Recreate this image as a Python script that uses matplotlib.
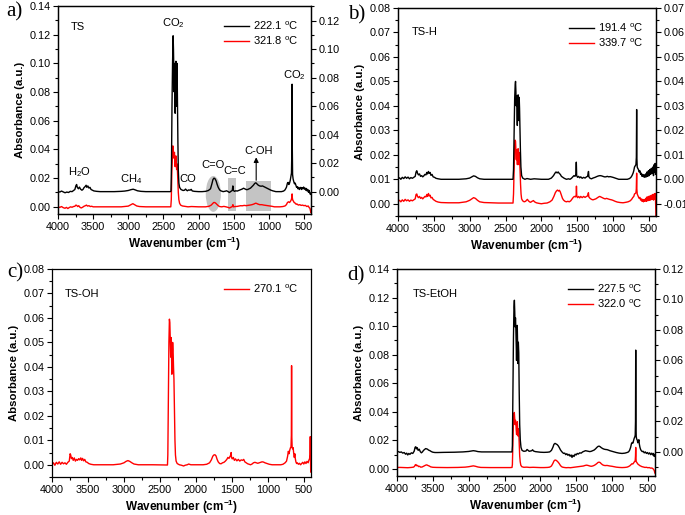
import matplotlib
matplotlib.use('Agg')
import matplotlib.pyplot as plt
from matplotlib.ticker import MultipleLocator, FormatStrFormatter
from matplotlib.patches import Ellipse, Rectangle

plt.rcParams['font.family'] = ['Liberation Sans', 'DejaVu Sans']
plt.rcParams['mathtext.fontset'] = 'custom'
plt.rcParams['mathtext.rm'] = 'Liberation Sans'
plt.rcParams['mathtext.it'] = 'Liberation Sans:italic'
plt.rcParams['mathtext.bf'] = 'Liberation Sans:bold'

# ---------------- data: (wavenumber cm-1, absorbance) ----------------
# Panel a (TS): black on right axis, red on left axis
A_BLACK = [(4000,0.0002),(3975,-0.0003),(3950,0.0004),(3925,-0.0002),(3900,-0.0008),(3875,-0.0003),(3850,-0.0006),(3825,0.0002),(3800,0.0000),(3780,0.0008),(3760,0.0015),(3745,0.0042),(3735,0.0050),(3725,0.0030),(3710,0.0020),(3695,0.0032),(3680,0.0018),(3660,0.0010),(3645,0.0015),(3630,0.0028),(3615,0.0035),(3600,0.0045),(3590,0.0030),(3575,0.0040),(3560,0.0025),(3545,0.0030),(3530,0.0015),(3510,0.0010),(3490,0.0005),(3450,0.0002),(3400,0.0),(3300,0.0),(3200,0.0),(3100,0.0002),(3050,0.0004),(3000,0.0008),(2960,0.0014),(2930,0.0017),(2900,0.0012),(2870,0.0006),(2820,0.0002),(2750,0.0),(2600,0.0),(2500,0.0),(2400,0.0),(2392,0.0005),(2385,0.02),(2378,0.06),(2370,0.09),(2362,0.1094),(2357,0.10),(2352,0.085),(2347,0.07),(2343,0.09),(2338,0.07),(2333,0.055),(2327,0.08),(2322,0.0915),(2318,0.075),(2314,0.06),(2310,0.085),(2306,0.09),(2300,0.06),(2294,0.035),(2288,0.015),(2280,0.006),(2270,0.003),(2250,0.0015),(2220,0.0008),(2200,0.001),(2185,0.0018),(2170,0.0010),(2160,0.0006),(2140,0.0012),(2120,0.0010),(2105,0.0016),(2090,0.0005),(2060,0.0002),(2000,0.0),(1950,0.0),(1900,0.0002),(1860,0.0008),(1830,0.002),(1810,0.0055),(1795,0.0085),(1780,0.0095),(1765,0.0090),(1750,0.0075),(1735,0.0050),(1720,0.0030),(1700,0.0012),(1680,0.0005),(1650,0.0),(1620,0.0003),(1600,0.0006),(1580,0.0),(1560,-0.0006),(1540,0.0002),(1520,0.0008),(1512,0.0040),(1506,0.0010),(1490,0.0002),(1470,0.0006),(1450,0.0004),(1420,0.0010),(1400,0.0014),(1380,0.0018),(1360,0.0024),(1345,0.0020),(1320,0.0014),(1300,0.0015),(1280,0.0020),(1260,0.0025),(1240,0.0035),(1220,0.0045),(1200,0.0058),(1185,0.0062),(1170,0.0055),(1150,0.0045),(1130,0.0040),(1110,0.0038),(1090,0.0040),(1070,0.0035),(1050,0.0030),(1030,0.0025),(1000,0.0018),(970,0.0010),(940,0.0005),(900,0.0),(860,0.0),(820,0.0),(790,0.0004),(770,0.0012),(750,0.0030),(735,0.0060),(725,0.0065),(715,0.0050),(705,0.0060),(695,0.0080),(685,0.0110),(678,0.0130),(672,0.0300),(669,0.0754),(666,0.0300),(662,0.0120),(655,0.0090),(645,0.0070),(635,0.0055),(625,0.0060),(615,0.0045),(605,0.0030),(595,0.0035),(585,0.0020),(575,0.0030),(565,0.0015),(555,0.0025),(545,0.0030),(535,0.0015),(525,0.0028),(515,0.0020),(505,0.0032),(495,0.0018),(485,0.0025),(475,0.0010),(465,0.0022),(455,0.0005),(445,0.0015),(435,-0.0005),(425,0.0008),(415,-0.0015),(405,-0.0020),(400,-0.0010)]
A_RED = [(4000,0.0),(3975,-0.0004),(3950,0.0002),(3925,-0.0006),(3900,-0.0010),(3880,-0.0004),(3860,-0.0012),(3840,-0.0005),(3820,0.0),(3800,-0.0003),(3780,0.0002),(3760,0.0004),(3745,0.0012),(3735,0.0010),(3720,0.0002),(3705,0.0008),(3690,-0.0002),(3670,-0.0008),(3650,-0.0003),(3630,0.0004),(3610,0.0008),(3595,0.0012),(3580,0.0005),(3560,0.0008),(3540,0.0002),(3520,0.0004),(3500,0.0),(3450,0.0),(3300,0.0),(3100,0.0),(3000,0.0005),(2960,0.0015),(2935,0.0022),(2910,0.0015),(2880,0.0006),(2840,0.0002),(2750,0.0),(2600,0.0),(2450,0.0),(2395,0.0),(2388,0.005),(2380,0.025),(2372,0.036),(2366,0.0425),(2360,0.040),(2354,0.034),(2348,0.036),(2343,0.038),(2338,0.033),(2333,0.028),(2328,0.033),(2322,0.0355),(2317,0.030),(2312,0.026),(2307,0.030),(2301,0.026),(2295,0.018),(2288,0.010),(2280,0.005),(2270,0.0025),(2255,0.0012),(2230,0.0006),(2200,0.0004),(2150,0.0),(2100,0.0002),(2000,0.0),(1900,0.0),(1850,0.0004),(1820,0.0012),(1800,0.0022),(1785,0.0030),(1770,0.0030),(1755,0.0025),(1740,0.0018),(1720,0.0008),(1700,0.0002),(1670,0.0),(1640,0.0003),(1610,0.0),(1580,-0.0004),(1560,-0.0008),(1540,-0.0003),(1520,0.0002),(1511,0.0015),(1505,0.0),(1480,0.0002),(1450,0.0003),(1420,0.0006),(1400,0.0008),(1380,0.0007),(1350,0.0010),(1320,0.0008),(1300,0.0010),(1270,0.0012),(1240,0.0015),(1210,0.0020),(1190,0.0025),(1175,0.0024),(1160,0.0020),(1130,0.0015),(1100,0.0015),(1070,0.0012),(1040,0.0010),(1000,0.0008),(960,0.0004),(920,0.0),(880,0.0),(840,0.0),(800,0.0002),(770,0.0006),(750,0.0015),(735,0.0030),(720,0.0035),(705,0.0030),(690,0.0040),(680,0.0050),(673,0.0065),(669,0.0090),(665,0.0060),(658,0.0045),(650,0.0040),(640,0.0030),(630,0.0028),(620,0.0022),(610,0.0018),(600,0.0020),(580,0.0012),(560,0.0015),(540,0.0010),(520,0.0012),(500,0.0008),(480,0.0010),(460,0.0002),(440,0.0006),(425,-0.0006),(415,-0.0010),(408,-0.0025),(402,-0.0040),(400,-0.0030)]

# Panel b (TS-H)
B_BLACK = [(4000,0.0002),(3980,0.0006),(3960,0.0000),(3940,0.0008),(3920,0.0003),(3900,0.0010),(3880,0.0004),(3860,0.0009),(3840,0.0002),(3820,0.0007),(3800,0.0004),(3780,0.0008),(3760,0.0012),(3748,0.0030),(3738,0.0035),(3728,0.0025),(3715,0.0018),(3700,0.0022),(3685,0.0012),(3670,0.0015),(3655,0.0010),(3640,0.0014),(3625,0.0020),(3610,0.0018),(3598,0.0028),(3588,0.0022),(3575,0.0032),(3565,0.0024),(3552,0.0028),(3540,0.0016),(3525,0.0020),(3510,0.0010),(3490,0.0008),(3470,0.0004),(3440,0.0002),(3400,0.0),(3300,0.0),(3150,0.0),(3050,0.0002),(3000,0.0005),(2970,0.0010),(2945,0.0014),(2920,0.0012),(2890,0.0006),(2860,0.0002),(2800,0.0),(2600,0.0),(2450,0.0),(2395,0.0),(2388,0.004),(2380,0.020),(2372,0.033),(2365,0.0385),(2360,0.040),(2355,0.036),(2350,0.030),(2345,0.034),(2340,0.027),(2335,0.022),(2330,0.030),(2324,0.0345),(2319,0.028),(2314,0.024),(2309,0.0335),(2304,0.029),(2298,0.020),(2292,0.012),(2285,0.005),(2275,0.0015),(2260,0.0005),(2230,0.0),(2200,0.0003),(2150,0.0),(2100,0.0002),(2000,0.0),(1900,0.0),(1860,0.0005),(1830,0.0015),(1810,0.0025),(1795,0.0030),(1780,0.0026),(1765,0.0030),(1750,0.0024),(1735,0.0020),(1720,0.0012),(1700,0.0008),(1680,0.0004),(1650,0.0),(1620,0.0002),(1600,0.0),(1580,0.0004),(1560,0.0010),(1545,0.0015),(1530,0.0012),(1518,0.0020),(1512,0.0070),(1507,0.0015),(1495,0.0008),(1480,0.0012),(1465,0.0006),(1450,0.0010),(1430,0.0004),(1410,0.0008),(1390,0.0005),(1370,0.0010),(1355,0.0012),(1342,0.0032),(1336,0.0010),(1320,0.0004),(1300,0.0002),(1280,0.0005),(1250,0.0008),(1220,0.0012),(1200,0.0014),(1180,0.0015),(1160,0.0014),(1140,0.0012),(1120,0.0010),(1100,0.0010),(1080,0.0012),(1060,0.0010),(1040,0.0011),(1000,0.0008),(960,0.0004),(920,0.0),(880,0.0),(840,0.0),(800,0.0),(770,0.0003),(750,0.0008),(735,0.0015),(720,0.0025),(710,0.0035),(700,0.0050),(690,0.0055),(680,0.0060),(674,0.0090),(670,0.0285),(667,0.0090),(662,0.0050),(655,0.0045),(645,0.0040),(635,0.0030),(625,0.0035),(615,0.0020),(605,0.0025),(595,0.0012),(585,0.0020),(575,0.0010),(565,0.0018),(555,0.0008),(545,0.0022),(535,0.0010),(525,0.0030),(515,0.0012),(505,0.0035),(495,0.0015),(485,0.0040),(475,0.0020),(465,0.0045),(455,0.0025),(445,0.0050),(435,0.0015),(425,0.0060),(418,0.0030),(412,0.0065),(406,0.0020),(400,0.0040)]
B_RED = [(4000,0.0010),(3980,0.0014),(3960,0.0008),(3940,0.0016),(3920,0.0010),(3900,0.0018),(3880,0.0012),(3860,0.0016),(3840,0.0010),(3820,0.0015),(3800,0.0012),(3780,0.0016),(3760,0.0020),(3748,0.0038),(3738,0.0040),(3728,0.0030),(3715,0.0025),(3700,0.0030),(3685,0.0022),(3670,0.0026),(3655,0.0020),(3640,0.0025),(3625,0.0030),(3610,0.0028),(3598,0.0038),(3588,0.0030),(3575,0.0042),(3565,0.0032),(3552,0.0035),(3540,0.0024),(3525,0.0026),(3510,0.0018),(3490,0.0014),(3470,0.0010),(3440,0.0007),(3400,0.0005),(3300,0.0004),(3150,0.0004),(3050,0.0008),(3000,0.0014),(2970,0.0020),(2945,0.0025),(2920,0.0022),(2890,0.0014),(2860,0.0008),(2800,0.0005),(2600,0.0003),(2450,0.0003),(2395,0.0003),(2388,0.004),(2380,0.015),(2372,0.024),(2366,0.026),(2360,0.0255),(2354,0.021),(2349,0.018),(2344,0.022),(2339,0.019),(2334,0.016),(2329,0.020),(2324,0.0225),(2319,0.018),(2314,0.016),(2309,0.021),(2303,0.019),(2296,0.013),(2290,0.008),(2283,0.004),(2275,0.002),(2260,0.0012),(2240,0.0008),(2220,0.0010),(2195,0.0018),(2180,0.0012),(2165,0.0008),(2150,0.0006),(2130,0.0010),(2110,0.0013),(2095,0.0008),(2070,0.0004),(2040,0.0002),(2000,0.0),(1960,0.0002),(1920,0.0003),(1880,0.0008),(1850,0.0015),(1825,0.0030),(1805,0.0045),(1790,0.0052),(1775,0.0056),(1760,0.0052),(1748,0.0055),(1735,0.0048),(1720,0.0035),(1705,0.0022),(1690,0.0015),(1670,0.0010),(1650,0.0008),(1630,0.0010),(1610,0.0008),(1590,0.0012),(1570,0.0020),(1555,0.0026),(1540,0.0030),(1525,0.0028),(1514,0.0035),(1510,0.0072),(1505,0.0030),(1495,0.0025),(1480,0.0030),(1465,0.0024),(1450,0.0030),(1430,0.0025),(1410,0.0030),(1390,0.0026),(1370,0.0030),(1355,0.0032),(1343,0.0045),(1337,0.0028),(1320,0.0022),(1300,0.0018),(1280,0.0016),(1260,0.0018),(1240,0.0020),(1220,0.0024),(1200,0.0028),(1185,0.0030),(1170,0.0028),(1150,0.0025),(1130,0.0022),(1110,0.0020),(1090,0.0022),(1070,0.0020),(1050,0.0018),(1020,0.0016),(1000,0.0014),(970,0.0010),(940,0.0007),(900,0.0005),(860,0.0004),(820,0.0006),(790,0.0008),(760,0.0012),(740,0.0018),(725,0.0025),(710,0.0030),(700,0.0040),(690,0.0042),(680,0.0045),(675,0.0060),(670,0.0125),(667,0.0060),(662,0.0040),(655,0.0035),(645,0.0028),(635,0.0022),(625,0.0026),(615,0.0015),(605,0.0020),(595,0.0010),(585,0.0018),(575,0.0008),(565,0.0016),(555,0.0010),(545,0.0022),(535,0.0010),(525,0.0028),(515,0.0012),(505,0.0030),(495,0.0014),(485,0.0032),(475,0.0015),(465,0.0035),(455,0.0018),(445,0.0038),(435,0.0015),(425,0.0040),(418,0.0020),(412,0.0042),(406,0.0010),(403,-0.0020),(401,-0.0060),(400,-0.0070)]

# Panel c (TS-OH)
C_RED = [(4000,0.0),(3980,0.0008),(3960,-0.0002),(3940,0.0010),(3920,0.0003),(3900,0.0012),(3880,0.0002),(3860,0.0010),(3840,0.0004),(3820,0.0008),(3800,0.0002),(3780,0.0010),(3760,0.0015),(3748,0.0045),(3740,0.0040),(3730,0.0025),(3718,0.0030),(3705,0.0018),(3690,0.0028),(3675,0.0015),(3660,0.0022),(3645,0.0018),(3630,0.0025),(3615,0.0020),(3600,0.0028),(3588,0.0018),(3575,0.0026),(3560,0.0016),(3545,0.0022),(3530,0.0012),(3510,0.0010),(3490,0.0005),(3460,0.0002),(3420,0.0),(3300,0.0),(3150,0.0),(3050,0.0003),(3000,0.0008),(2970,0.0014),(2945,0.0017),(2920,0.0014),(2890,0.0008),(2860,0.0003),(2800,0.0),(2600,0.0),(2450,-0.0001),(2395,-0.0001),(2390,0.004),(2382,0.030),(2375,0.050),(2368,0.0595),(2362,0.058),(2356,0.050),(2350,0.044),(2345,0.052),(2339,0.046),(2334,0.037),(2329,0.045),(2323,0.050),(2317,0.047),(2311,0.040),(2305,0.035),(2298,0.022),(2291,0.010),(2284,0.004),(2275,0.0015),(2260,0.0005),(2230,0.0),(2200,-0.0002),(2170,-0.0005),(2150,-0.0002),(2120,0.0),(2100,0.0003),(2070,0.0),(2000,0.0),(1900,0.0),(1850,0.0002),(1810,0.0008),(1785,0.0020),(1765,0.0035),(1750,0.0040),(1735,0.0041),(1720,0.0036),(1705,0.0022),(1690,0.0012),(1670,0.0005),(1650,0.0004),(1630,0.0008),(1610,0.0010),(1590,0.0015),(1570,0.0022),(1555,0.0030),(1540,0.0026),(1525,0.0035),(1515,0.0040),(1510,0.0050),(1505,0.0030),(1495,0.0024),(1480,0.0030),(1465,0.0018),(1450,0.0024),(1430,0.0016),(1410,0.0022),(1390,0.0015),(1370,0.0020),(1350,0.0018),(1335,0.0022),(1320,0.0012),(1300,0.0008),(1280,0.0004),(1260,0.0002),(1240,0.0),(1220,0.0003),(1200,0.0008),(1180,0.0010),(1160,0.0008),(1140,0.0006),(1120,0.0008),(1100,0.0010),(1080,0.0012),(1060,0.0011),(1040,0.0008),(1010,0.0005),(980,0.0002),(940,0.0),(900,0.0),(860,0.0),(820,0.0),(790,0.0002),(760,0.0008),(740,0.0015),(725,0.0035),(715,0.0055),(705,0.0045),(695,0.0060),(685,0.0070),(678,0.0072),(673,0.0120),(670,0.0405),(667,0.0120),(662,0.0070),(655,0.0065),(648,0.0070),(640,0.0045),(632,0.0030),(625,0.0045),(618,0.0025),(610,0.0012),(600,0.0005),(590,0.0008),(575,0.0002),(560,0.0006),(545,0.0),(530,0.0005),(515,0.0010),(500,0.0003),(485,0.0012),(470,0.0005),(455,0.0014),(440,0.0008),(430,0.0018),(420,0.0025),(414,0.0040),(410,0.0115),(407,0.0020),(404,-0.0030),(402,-0.0010),(400,0.0010)]

# Panel d (TS-EtOH)
D_BLACK = [(4000,0.0),(3980,0.0002),(3960,-0.0003),(3940,0.0),(3920,-0.0008),(3900,-0.0004),(3880,-0.0015),(3865,-0.0008),(3850,-0.0020),(3835,-0.0010),(3820,-0.0016),(3800,-0.0006),(3780,-0.0010),(3760,0.0005),(3748,0.0030),(3738,0.0034),(3728,0.0020),(3718,0.0028),(3705,0.0010),(3690,0.0018),(3675,0.0002),(3660,-0.0006),(3645,0.0),(3630,0.0010),(3615,0.0016),(3600,0.0022),(3588,0.0020),(3575,0.0018),(3560,0.0012),(3540,0.0008),(3520,0.0002),(3500,-0.0002),(3470,-0.0004),(3430,-0.0004),(3350,-0.0003),(3200,-0.0002),(3080,0.0),(3000,0.0003),(2960,0.0006),(2935,0.0008),(2905,0.0006),(2870,0.0002),(2820,0.0),(2700,0.0),(2550,0.0),(2420,0.0),(2395,0.0),(2390,0.004),(2382,0.040),(2375,0.075),(2368,0.095),(2362,0.0995),(2357,0.092),(2352,0.082),(2347,0.088),(2342,0.082),(2337,0.070),(2332,0.060),(2327,0.075),(2322,0.083),(2317,0.070),(2312,0.058),(2307,0.072),(2301,0.065),(2295,0.040),(2288,0.018),(2280,0.008),(2270,0.003),(2255,0.001),(2230,0.0004),(2200,0.0006),(2185,0.0016),(2170,0.0010),(2155,0.0004),(2140,0.0006),(2120,0.0008),(2108,0.0014),(2095,0.0006),(2070,0.0002),(2040,0.0),(2000,-0.0002),(1950,-0.0003),(1900,-0.0002),(1870,0.0),(1845,0.0010),(1825,0.0030),(1810,0.0050),(1795,0.0056),(1780,0.0052),(1765,0.0048),(1750,0.0040),(1735,0.0028),(1720,0.0014),(1705,0.0004),(1690,-0.0004),(1675,-0.0010),(1660,-0.0008),(1645,-0.0018),(1630,-0.0012),(1615,-0.0022),(1600,-0.0016),(1585,-0.0028),(1570,-0.0020),(1558,-0.0036),(1545,-0.0022),(1530,-0.0030),(1515,-0.0015),(1500,-0.0020),(1485,-0.0010),(1470,-0.0014),(1450,-0.0006),(1430,-0.0008),(1410,0.0),(1390,0.0004),(1370,0.0008),(1350,0.0006),(1330,0.0004),(1310,0.0002),(1290,0.0004),(1270,0.0008),(1250,0.0012),(1230,0.0020),(1210,0.0030),(1195,0.0036),(1180,0.0038),(1165,0.0034),(1150,0.0028),(1130,0.0022),(1110,0.0018),(1090,0.0016),(1070,0.0015),(1050,0.0012),(1030,0.0008),(1000,0.0004),(970,0.0),(940,-0.0004),(900,-0.0008),(860,-0.0010),(820,-0.0008),(790,-0.0004),(770,0.0),(755,0.0010),(740,0.0030),(728,0.0055),(718,0.0062),(708,0.0058),(698,0.0075),(690,0.0090),(682,0.0098),(676,0.0110),(672,0.0200),(669,0.0668),(666,0.0200),(662,0.0100),(656,0.0085),(648,0.0078),(640,0.0060),(632,0.0068),(625,0.0080),(618,0.0050),(610,0.0030),(600,0.0015),(590,0.0008),(578,0.0002),(565,0.0004),(550,-0.0006),(535,0.0),(520,-0.0010),(505,-0.0004),(490,-0.0014),(475,-0.0006),(460,-0.0018),(445,-0.0008),(432,-0.0020),(420,-0.0010),(410,-0.0030),(404,-0.0018),(400,-0.0026)]
D_RED = [(4000,0.0010),(3950,0.0010),(3900,0.0009),(3850,0.0008),(3800,0.0010),(3770,0.0012),(3755,0.0018),(3745,0.0028),(3735,0.0030),(3725,0.0022),(3712,0.0024),(3700,0.0016),(3685,0.0018),(3670,0.0012),(3650,0.0013),(3630,0.0018),(3615,0.0022),(3600,0.0026),(3585,0.0028),(3570,0.0024),(3550,0.0020),(3530,0.0014),(3500,0.0011),(3450,0.0010),(3300,0.0009),(3150,0.0010),(3050,0.0012),(3000,0.0015),(2960,0.0019),(2935,0.0021),(2905,0.0018),(2870,0.0013),(2830,0.0010),(2700,0.0009),(2550,0.0009),(2420,0.0009),(2395,0.0010),(2390,0.003),(2383,0.018),(2376,0.032),(2369,0.0385),(2363,0.0395),(2357,0.035),(2352,0.031),(2347,0.034),(2341,0.032),(2336,0.027),(2331,0.024),(2326,0.030),(2321,0.033),(2316,0.028),(2311,0.023),(2306,0.028),(2300,0.025),(2294,0.016),(2288,0.009),(2281,0.005),(2272,0.0025),(2258,0.0015),(2230,0.0011),(2190,0.0012),(2150,0.0010),(2100,0.0011),(2050,0.0010),(2000,0.0009),(1950,0.0009),(1900,0.0010),(1870,0.0012),(1845,0.0020),(1825,0.0038),(1810,0.0055),(1795,0.0062),(1780,0.0060),(1765,0.0054),(1750,0.0046),(1735,0.0036),(1720,0.0024),(1705,0.0016),(1690,0.0012),(1670,0.0010),(1640,0.0008),(1610,0.0009),(1580,0.0008),(1550,0.0010),(1520,0.0012),(1490,0.0014),(1460,0.0016),(1430,0.0018),(1400,0.0020),(1375,0.0024),(1355,0.0026),(1335,0.0024),(1310,0.0020),(1290,0.0018),(1270,0.0020),(1250,0.0024),(1230,0.0030),(1210,0.0038),(1195,0.0045),(1180,0.0047),(1165,0.0044),(1150,0.0036),(1130,0.0028),(1110,0.0024),(1090,0.0023),(1070,0.0024),(1050,0.0022),(1030,0.0020),(1000,0.0018),(970,0.0015),(940,0.0012),(900,0.0010),(860,0.0009),(820,0.0010),(790,0.0012),(770,0.0016),(750,0.0022),(735,0.0030),(722,0.0036),(710,0.0034),(700,0.0040),(690,0.0048),(682,0.0052),(676,0.0060),(672,0.0090),(669,0.0150),(666,0.0080),(662,0.0050),(655,0.0046),(648,0.0040),(640,0.0034),(630,0.0030),(620,0.0026),(610,0.0022),(600,0.0020),(585,0.0016),(570,0.0014),(555,0.0012),(540,0.0010),(520,0.0011),(500,0.0008),(480,0.0009),(460,0.0005),(445,0.0006),(430,0.0002),(420,-0.0004),(410,-0.0012),(404,-0.0025),(400,-0.0030)]

SAMPLES = ['TS', 'TS-H', 'TS-OH', 'TS-EtOH']
BLACK_LABELS = ['222.1', '191.4', None, '227.5']
RED_LABELS = ['321.8', '339.7', '270.1', '322.0']
PANEL_LETTERS = ['a)', 'b)', 'c)', 'd)']

# ---------------- figure ----------------
fig = plt.figure(figsize=(6.85, 5.15), dpi=100)
W, H = 685.0, 515.0

def rect(l, t, r, b):
    return [l / W, 1 - b / H, (r - l) / W, (b - t) / H]

TICK = 7.8
LW = 1.0

def style_common(ax, ymaj, ymin):
    ax.set_xlim(4000, 400)
    ax.xaxis.set_major_locator(MultipleLocator(500))
    ax.xaxis.set_minor_locator(MultipleLocator(250))
    ax.yaxis.set_major_locator(MultipleLocator(ymaj))
    ax.yaxis.set_minor_locator(MultipleLocator(ymin))
    ax.yaxis.set_major_formatter(FormatStrFormatter('%.2f'))
    ax.tick_params(which='both', direction='out', top=False, right=False,
                   labelsize=TICK, width=0.8, pad=2)
    ax.tick_params(which='major', length=3.5)
    ax.tick_params(which='minor', length=2)
    for s in ax.spines.values():
        s.set_linewidth(0.9)
    ax.set_xlabel('Wavenumber (cm$^{\\mathregular{-1}}$)', fontsize=8.5,
                  fontweight='bold', labelpad=2)
    ax.set_ylabel('Absorbance (a.u.)', fontsize=8.2, fontweight='bold', labelpad=3)

def style_twin(tw, ymaj, ymin):
    tw.yaxis.set_major_locator(MultipleLocator(ymaj))
    tw.yaxis.set_minor_locator(MultipleLocator(ymin))
    tw.yaxis.set_major_formatter(FormatStrFormatter('%.2f'))
    tw.tick_params(which='both', direction='out', labelsize=TICK, width=0.8, pad=2)
    tw.tick_params(which='major', length=3.5)
    tw.tick_params(which='minor', length=2)
    for s in tw.spines.values():
        s.set_linewidth(0.9)

def xy(data):
    return [p[0] for p in data], [p[1] for p in data]

def deg(t):
    return t + ' $^{\\mathregular{o}}$C'

# ---- panel a
axa = fig.add_axes(rect(58, 6, 311, 214))
style_common(axa, 0.02, 0.01)
axa.set_ylim(-0.005, 0.14)
axa.add_patch(Ellipse((1790, 0.009), 215, 0.025, facecolor='#c4c4c4', edgecolor='none', zorder=1))
axa.add_patch(Rectangle((1470, -0.003), 105, 0.023, facecolor='#c4c4c4', edgecolor='none', zorder=1))
axa.add_patch(Rectangle((975, -0.003), 345, 0.021, facecolor='#c4c4c4', edgecolor='none', zorder=1))
x, y = xy(A_RED)
lr, = axa.plot(x, y, color='#ff0000', lw=LW, zorder=2, label=deg(RED_LABELS[0]))
twa = axa.twinx()
style_twin(twa, 0.02, 0.01)
twa.set_ylim(-0.0157, 0.1303)
x, y = xy(A_BLACK)
lb, = twa.plot(x, y, color='black', lw=LW, label=deg(BLACK_LABELS[0]))
twa.legend(handles=[lb, lr], loc='upper right', frameon=False, fontsize=8,
           handlelength=2.2, handletextpad=0.4, labelspacing=0.25,
           bbox_to_anchor=(0.99, 0.985))
axa.text(0.05, 0.9, SAMPLES[0], transform=axa.transAxes, fontsize=8, va='center')
axa.text(2360, 0.128, 'CO$_\\mathregular{2}$', fontsize=8, ha='center', va='center')
axa.text(3690, 0.024, 'H$_\\mathregular{2}$O', fontsize=8, ha='center', va='center')
axa.text(2960, 0.019, 'CH$_\\mathregular{4}$', fontsize=8, ha='center', va='center')
axa.text(2150, 0.0195, 'CO', fontsize=8, ha='center', va='center')
axa.text(1800, 0.0295, 'C=O', fontsize=8, ha='center', va='center')
axa.text(1480, 0.025, 'C=C', fontsize=8, ha='center', va='center')
axa.text(1150, 0.039, 'C-OH', fontsize=8, ha='center', va='center')
axa.text(630, 0.0915, 'CO$_\\mathregular{2}$', fontsize=8, ha='center', va='center')
axa.annotate('', xy=(1180, 0.0345), xytext=(1180, 0.0185),
             arrowprops=dict(arrowstyle='-|>', color='black', lw=0.8,
                             mutation_scale=7, shrinkA=0, shrinkB=0))

# ---- panel b
axb = fig.add_axes(rect(398, 8, 656, 216))
style_common(axb, 0.01, 0.005)
axb.set_ylim(-0.005, 0.08)
x, y = xy(B_RED)
lr, = axb.plot(x, y, color='#ff0000', lw=LW, label=deg(RED_LABELS[1]))
twb = axb.twinx()
style_twin(twb, 0.01, 0.005)
twb.set_ylim(-0.015, 0.07)
x, y = xy(B_BLACK)
lb, = twb.plot(x, y, color='black', lw=LW, label=deg(BLACK_LABELS[1]))
twb.legend(handles=[lb, lr], loc='upper right', frameon=False, fontsize=8,
           handlelength=2.2, handletextpad=0.4, labelspacing=0.25,
           bbox_to_anchor=(0.99, 0.985))
axb.text(0.053, 0.885, SAMPLES[1], transform=axb.transAxes, fontsize=8, va='center')

# ---- panel c
axc = fig.add_axes(rect(52, 269, 311, 477))
style_common(axc, 0.01, 0.005)
axc.set_ylim(-0.005, 0.08)
x, y = xy(C_RED)
lr, = axc.plot(x, y, color='#ff0000', lw=LW, label=deg(RED_LABELS[2]))
axc.legend(handles=[lr], loc='upper right', frameon=False, fontsize=8,
           handlelength=2.2, handletextpad=0.4, bbox_to_anchor=(0.99, 0.985))
axc.text(0.05, 0.88, SAMPLES[2], transform=axc.transAxes, fontsize=8, va='center')

# ---- panel d
axd = fig.add_axes(rect(397, 269, 655, 476))
style_common(axd, 0.02, 0.01)
axd.set_ylim(-0.005, 0.14)
x, y = xy(D_RED)
lr, = axd.plot(x, y, color='#ff0000', lw=LW, label=deg(RED_LABELS[3]))
twd = axd.twinx()
style_twin(twd, 0.02, 0.01)
twd.set_ylim(-0.0158, 0.12)
x, y = xy(D_BLACK)
lb, = twd.plot(x, y, color='black', lw=LW, label=deg(BLACK_LABELS[3]))
twd.legend(handles=[lb, lr], loc='upper right', frameon=False, fontsize=8,
           handlelength=2.2, handletextpad=0.4, labelspacing=0.25,
           bbox_to_anchor=(0.99, 0.985))
axd.text(0.062, 0.88, SAMPLES[3], transform=axd.transAxes, fontsize=8, va='center')

# panel letters
for (px, py), letter in zip([(14, 12), (357, 15), (15, 273), (356, 276)], PANEL_LETTERS):
    fig.text(px / W, 1 - py / H, letter, fontsize=15, family='Liberation Serif',
             ha='center', va='center')

fig.savefig('out.png', dpi=100)
